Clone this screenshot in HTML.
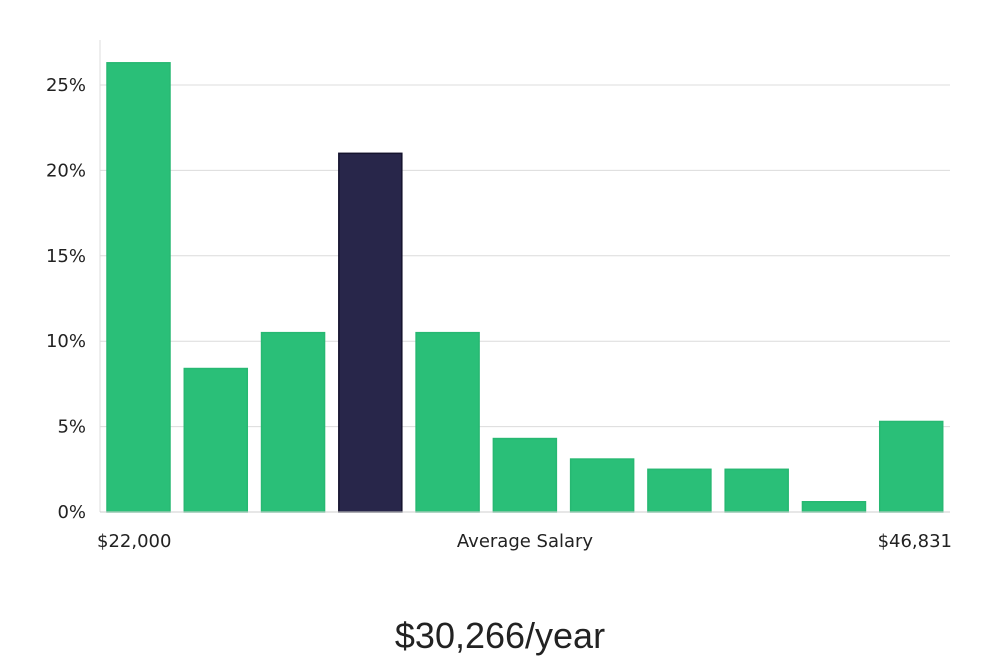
<!DOCTYPE html>
<html><head><meta charset="utf-8"><style>
html,body{margin:0;padding:0;background:#fff;width:1000px;height:660px;overflow:hidden}
svg{display:block}
text{font-family:"DejaVu Sans","Liberation Sans",sans-serif;fill:#222}
</style></head><body>
<svg id="chart" width="1000" height="660" viewBox="0 0 1000 660">
<g id="grid"></g><g id="bars"></g><g id="axes"></g>
<text x="97" y="547" font-size="18">$22,000</text>
<text x="525" y="547" font-size="18" text-anchor="middle">Average Salary</text>
<text x="952" y="547" font-size="18" text-anchor="end">$46,831</text>
<text x="500" y="648" font-size="36" text-anchor="middle" style="font-family:'Liberation Sans',sans-serif">$30,266/year</text>
</svg>
<script>
const values=[26.3,8.4,10.5,21.0,10.5,4.3,3.1,2.5,2.5,0.6,5.3];
const highlight=[false,false,false,true,false,false,false,false,false,false,false];
const ticks=[0,5,10,15,20,25];
const tickLabels=["0%","5%","10%","15%","20%","25%"];
const NS="http://www.w3.org/2000/svg";
const x0=100,x1=950,y0=512,yPer=(512-85)/25;
const y=v=>y0-v*yPer;
const band=(x1-x0)/values.length;
const g=document.getElementById('grid'),b=document.getElementById('bars'),a=document.getElementById('axes');
function mk(tag,attrs,parent){const e=document.createElementNS(NS,tag);for(const k in attrs)e.setAttribute(k,attrs[k]);parent.appendChild(e);return e;}
ticks.forEach((t,i)=>{
  if(t>0){const l=mk('line',{x1:x0,x2:x1,y1:y(t),y2:y(t),stroke:'#dcdcdc','stroke-width':1},g);
  
  }
  const tx=mk('text',{x:86,y:y(t)+6,'font-size':18,'text-anchor':'end'},a);
  tx.textContent=tickLabels[i];
  
  
});
values.forEach((v,i)=>{
  const r=mk('rect',{x:x0+i*band+7,y:y(v),width:63,height:y0-y(v),fill:highlight[i]?'#28264a':'#2abf78',stroke:highlight[i]?'#15132e':'#27b872','stroke-width':1.5},b);
  
  
});
const ya=mk('line',{x1:x0,x2:x0,y1:40,y2:y0,stroke:'#dcdcdc'},a);


const xa=mk('line',{x1:x0,x2:x1,y1:y0,y2:y0,stroke:'#cfcfcf'},a);


</script>
</body></html>
